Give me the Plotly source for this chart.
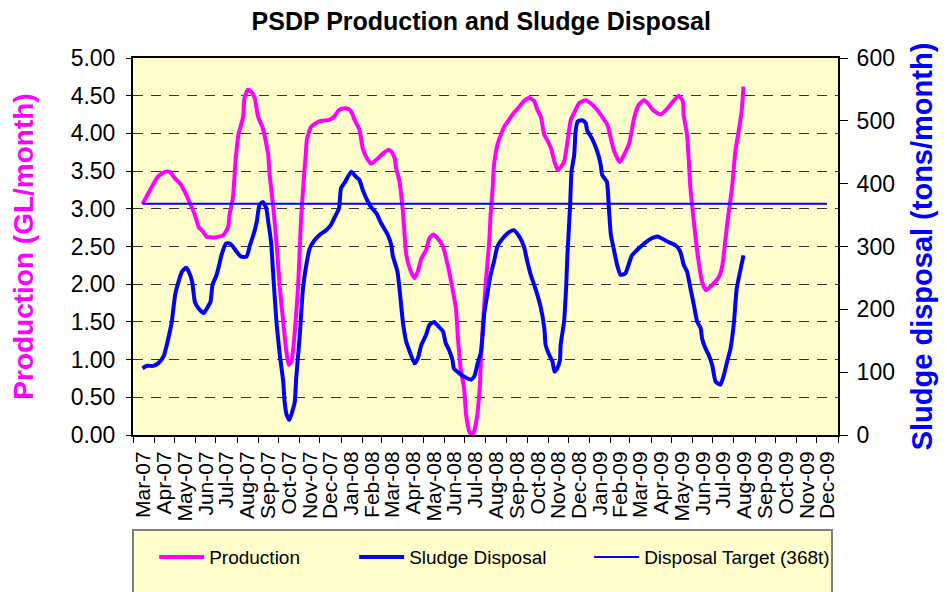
import plotly.graph_objects as go

# ---------------- data ----------------
prod_dates = [
    "2007-03-15", "2007-04-07", "2007-04-17", "2007-04-24", "2007-05-02", "2007-05-09", "2007-05-16",
    "2007-05-24", "2007-05-31", "2007-06-06", "2007-06-12", "2007-06-17", "2007-06-29", "2007-07-12",
    "2007-07-19", "2007-07-21", "2007-07-26", "2007-07-30", "2007-08-03", "2007-08-10", "2007-08-12",
    "2007-08-17", "2007-08-22", "2007-08-27", "2007-09-01", "2007-09-08", "2007-09-16", "2007-09-18",
    "2007-09-23", "2007-09-28", "2007-10-03", "2007-10-08", "2007-10-12", "2007-10-16", "2007-10-20",
    "2007-10-25", "2007-10-30", "2007-11-03", "2007-11-07", "2007-11-10", "2007-11-12", "2007-11-18",
    "2007-11-30", "2007-12-15", "2007-12-22", "2007-12-29", "2008-01-04", "2008-01-11", "2008-01-16",
    "2008-01-21", "2008-01-28", "2008-02-02", "2008-02-07", "2008-02-14", "2008-02-22", "2008-02-29",
    "2008-03-10", "2008-03-15", "2008-03-20", "2008-03-22", "2008-03-27", "2008-04-01", "2008-04-06",
    "2008-04-11", "2008-04-18", "2008-04-23", "2008-04-28", "2008-05-05", "2008-05-10", "2008-05-16",
    "2008-05-22", "2008-05-30", "2008-06-06", "2008-06-11", "2008-06-18", "2008-06-21", "2008-06-25",
    "2008-06-30", "2008-07-03", "2008-07-08", "2008-07-13", "2008-07-18", "2008-07-23", "2008-07-25",
    "2008-07-28", "2008-08-01", "2008-08-06", "2008-08-08", "2008-08-11", "2008-08-13", "2008-08-18",
    "2008-08-23", "2008-08-28", "2008-09-04", "2008-09-11", "2008-09-19", "2008-09-26", "2008-10-04",
    "2008-10-11", "2008-10-16", "2008-10-21", "2008-10-26", "2008-10-31", "2008-11-05", "2008-11-10",
    "2008-11-15", "2008-11-24", "2008-11-29", "2008-12-04", "2008-12-11", "2008-12-16", "2008-12-26",
    "2009-01-02", "2009-01-12", "2009-01-19", "2009-01-27", "2009-02-01", "2009-02-06", "2009-02-14",
    "2009-02-20", "2009-02-28", "2009-03-07", "2009-03-14", "2009-03-22", "2009-03-29", "2009-04-03",
    "2009-04-10", "2009-04-15", "2009-04-25", "2009-05-05", "2009-05-12", "2009-05-18", "2009-05-19",
    "2009-05-24", "2009-05-29", "2009-06-03", "2009-06-08", "2009-06-15", "2009-06-21", "2009-06-30",
    "2009-07-10", "2009-07-15", "2009-07-19", "2009-07-23", "2009-07-29", "2009-08-03", "2009-08-07",
    "2009-08-12", "2009-08-15",
]
production = [
    3.06, 3.43, 3.49, 3.49, 3.40, 3.34, 3.23,
    3.07, 2.92, 2.75, 2.70, 2.63, 2.62, 2.65,
    2.76, 2.92, 3.15, 3.65, 3.98, 4.22, 4.47,
    4.58, 4.55, 4.47, 4.22, 4.07, 3.71, 3.45,
    3.05, 2.56, 1.95, 1.50, 1.15, 0.93, 0.97,
    1.37, 1.99, 2.83, 3.36, 3.71, 3.93, 4.09,
    4.16, 4.18, 4.22, 4.31, 4.33, 4.33, 4.29,
    4.18, 4.05, 3.80, 3.69, 3.60, 3.65, 3.71,
    3.78, 3.76, 3.67, 3.54, 3.36, 2.96, 2.39,
    2.21, 2.08, 2.17, 2.34, 2.45, 2.61, 2.66,
    2.61, 2.50, 2.25, 2.03, 1.68, 1.28, 0.88,
    0.62, 0.27, 0.04, 0.00, 0.18, 0.62, 1.06,
    1.50, 2.03, 2.56, 2.92, 3.27, 3.58, 3.85,
    3.98, 4.09, 4.18, 4.27, 4.35, 4.43, 4.47,
    4.43, 4.31, 4.22, 3.98, 3.90, 3.80, 3.62,
    3.51, 3.62, 3.89, 4.18, 4.31, 4.40, 4.44,
    4.40, 4.31, 4.22, 4.11, 3.93, 3.76, 3.62,
    3.71, 3.87, 4.20, 4.38, 4.44, 4.38, 4.32,
    4.27, 4.25, 4.33, 4.44, 4.50, 4.42, 4.24,
    3.98, 3.27, 2.83, 2.43, 2.03, 1.92, 1.99,
    2.10, 2.25, 2.56, 2.87, 3.27, 3.76, 3.98,
    4.27, 4.62,
]

sludge_dates = [
    "2007-03-15", "2007-03-21", "2007-03-31", "2007-04-07", "2007-04-15", "2007-04-22", "2007-04-27",
    "2007-05-02", "2007-05-07", "2007-05-12", "2007-05-18", "2007-05-22", "2007-05-27", "2007-05-31",
    "2007-06-05", "2007-06-13", "2007-06-19", "2007-06-23", "2007-06-26", "2007-07-02", "2007-07-07",
    "2007-07-09", "2007-07-16", "2007-07-21", "2007-07-26", "2007-07-31", "2007-08-07", "2007-08-15",
    "2007-08-20", "2007-08-25", "2007-08-30", "2007-09-03", "2007-09-08", "2007-09-13", "2007-09-16",
    "2007-09-20", "2007-09-23", "2007-09-28", "2007-10-03", "2007-10-08", "2007-10-10", "2007-10-13",
    "2007-10-17", "2007-10-22", "2007-10-25", "2007-10-27", "2007-11-01", "2007-11-06", "2007-11-11",
    "2007-11-16", "2007-11-23", "2007-11-30", "2007-12-10", "2007-12-17", "2007-12-22", "2007-12-29",
    "2008-01-01", "2008-01-06", "2008-01-16", "2008-01-23", "2008-01-28", "2008-02-02", "2008-02-07",
    "2008-02-14", "2008-02-22", "2008-02-29", "2008-03-10", "2008-03-15", "2008-03-17", "2008-03-24",
    "2008-03-27", "2008-04-01", "2008-04-06", "2008-04-11", "2008-04-18", "2008-04-23", "2008-04-28",
    "2008-05-05", "2008-05-10", "2008-05-17", "2008-05-24", "2008-05-30", "2008-06-03", "2008-06-08",
    "2008-06-13", "2008-06-15", "2008-06-23", "2008-07-03", "2008-07-10", "2008-07-15", "2008-07-20",
    "2008-07-25", "2008-07-30", "2008-08-03", "2008-08-08", "2008-08-13", "2008-08-18", "2008-08-26",
    "2008-09-02", "2008-09-11", "2008-09-19", "2008-09-26", "2008-10-01", "2008-10-06", "2008-10-13",
    "2008-10-21", "2008-10-26", "2008-10-28", "2008-11-02", "2008-11-07", "2008-11-10", "2008-11-14",
    "2008-11-18", "2008-11-19", "2008-11-24", "2008-11-27", "2008-11-29", "2008-12-03", "2008-12-05",
    "2008-12-09", "2008-12-11", "2008-12-14", "2008-12-21", "2008-12-26", "2008-12-28", "2009-01-04",
    "2009-01-12", "2009-01-17", "2009-01-19", "2009-01-26", "2009-01-29", "2009-02-01", "2009-02-05",
    "2009-02-10", "2009-02-15", "2009-02-22", "2009-02-27", "2009-03-04", "2009-03-11", "2009-03-19",
    "2009-03-26", "2009-04-02", "2009-04-10", "2009-04-15", "2009-04-25", "2009-05-07", "2009-05-14",
    "2009-05-19", "2009-05-24", "2009-05-29", "2009-06-03", "2009-06-08", "2009-06-13", "2009-06-15",
    "2009-06-20", "2009-06-25", "2009-06-30", "2009-07-05", "2009-07-12", "2009-07-17", "2009-07-22",
    "2009-07-27", "2009-08-01", "2009-08-05", "2009-08-10", "2009-08-15",
]
sludge = [
    106, 110, 110, 114, 125, 154, 180,
    223, 244, 260, 266, 260, 244, 212,
    202, 194, 204, 212, 239, 255, 276,
    286, 305, 305, 300, 292, 284, 284,
    302, 318, 339, 366, 371, 361, 339,
    308, 260, 180, 127, 85, 53, 32,
    24, 40, 53, 90, 154, 233, 271,
    297, 310, 318, 326, 334, 345, 361,
    393, 401, 419, 411, 406, 390, 377,
    363, 353, 337, 318, 302, 286, 260,
    233, 180, 148, 133, 114, 122, 143,
    159, 175, 180, 172, 165, 146, 135,
    119, 106, 98, 91, 88, 93, 114,
    133, 196, 223, 255, 276, 300, 313,
    321, 326, 316, 300, 276, 255, 233,
    202, 170, 143, 128, 117, 101, 106,
    119, 143, 180, 233, 286, 366, 419,
    446, 483, 499, 501, 496, 485, 472,
    451, 430, 414, 403, 361, 318, 297,
    271, 255, 257, 271, 286, 294, 302,
    308, 313, 316, 314, 308, 302, 292,
    271, 260, 233, 207, 180, 170, 154,
    138, 127, 111, 85, 80, 95, 117,
    138, 180, 233, 260, 286,
]

target_dates = ["2007-03-15", "2009-12-16"]
target = [368, 368]

x_range = ["2007-03-01", "2010-01-01"]
prod_range = [0, 5]
sludge_range = [0, 600]

# ---------------- figure ----------------
MAGENTA = "#FF00FF"
BLUE = "#0000FF"
FONT = "Liberation Sans, Arial, sans-serif"

fig = go.Figure()
fig.add_trace(go.Scatter(
    x=prod_dates, y=production, name="Production", mode="lines",
    line=dict(color=MAGENTA, width=4, shape="spline", smoothing=0.5),
    yaxis="y", legendwidth=140,
))
fig.add_trace(go.Scatter(
    x=sludge_dates, y=sludge, name="Sludge Disposal", mode="lines",
    line=dict(color=BLUE, width=4, shape="spline", smoothing=0.5),
    yaxis="y2", legendwidth=175,
))
fig.add_trace(go.Scatter(
    x=target_dates, y=target, name="Disposal Target (368t)", mode="lines",
    line=dict(color=BLUE, width=2),
    yaxis="y2", legendwidth=190,
))

# the page body has an 8px default margin, so the figure is 8px smaller
fig.update_layout(
    width=939, height=584,
    margin=dict(l=125, r=109, t=50, b=157, autoexpand=False),
    paper_bgcolor="white",
    plot_bgcolor="#FFFFCC",
    font=dict(family=FONT, color="black", size=20),
    title=dict(
        text="<b>PSDP Production and Sludge Disposal</b>",
        font=dict(family=FONT, size=25, color="black"),
        x=0.504, xref="container", xanchor="center",
        y=0.978, yref="container", yanchor="middle",
    ),
    xaxis=dict(
        type="date", range=x_range,
        tick0="2007-03-01", dtick="M1", tickformat="%b-%y",
        ticklabelmode="period", tickangle=-90,
        ticks="outside", ticklen=6, tickcolor="black", tickwidth=1,
        showline=True, linecolor="black", linewidth=2, mirror=True,
        showgrid=False, zeroline=False,
        tickfont=dict(family=FONT, size=21, color="black"),
    ),
    yaxis=dict(
        range=prod_range, dtick=0.5, tick0=0, tickformat=".2f",
        ticks="outside", ticklen=5, tickcolor="black",
        showline=True, linecolor="black", linewidth=2,
        showgrid=True, gridcolor="#333333", griddash="10px,8px", gridwidth=1,
        zeroline=False,
        tickfont=dict(family=FONT, size=23, color="black"),
        ticklabelstandoff=6,
        title=dict(text="<b>Production (GL/month)</b>",
                   font=dict(family=FONT, size=28, color=MAGENTA), standoff=30),
    ),
    yaxis2=dict(
        range=sludge_range, dtick=100, tick0=0,
        overlaying="y", side="right",
        ticks="outside", ticklen=8, tickcolor="black",
        showline=True, linecolor="black", linewidth=2,
        showgrid=False, zeroline=False,
        tickfont=dict(family=FONT, size=23, color="black"),
        ticklabelstandoff=4,
        title=dict(text="<b>Sludge disposal (tons/month)</b>",
                   font=dict(family=FONT, size=29, color=BLUE), standoff=18),
    ),
    legend=dict(
        orientation="h", x=0.03, xanchor="left", y=-0.2735, yanchor="top",
        yref="paper", xref="paper",
        bgcolor="rgba(0,0,0,0)", borderwidth=0,
        font=dict(family=FONT, size=19, color="black"),
        itemwidth=45, traceorder="normal",
    ),
    shapes=[dict(
        type="rect", xref="paper", yref="paper",
        x0=0.0, x1=0.9915, y0=-0.252, y1=-0.45,
        fillcolor="#FFFFCC", line=dict(color="#808080", width=2), layer="below",
    )],
    showlegend=True,
)

fig.write_html("out.html")
